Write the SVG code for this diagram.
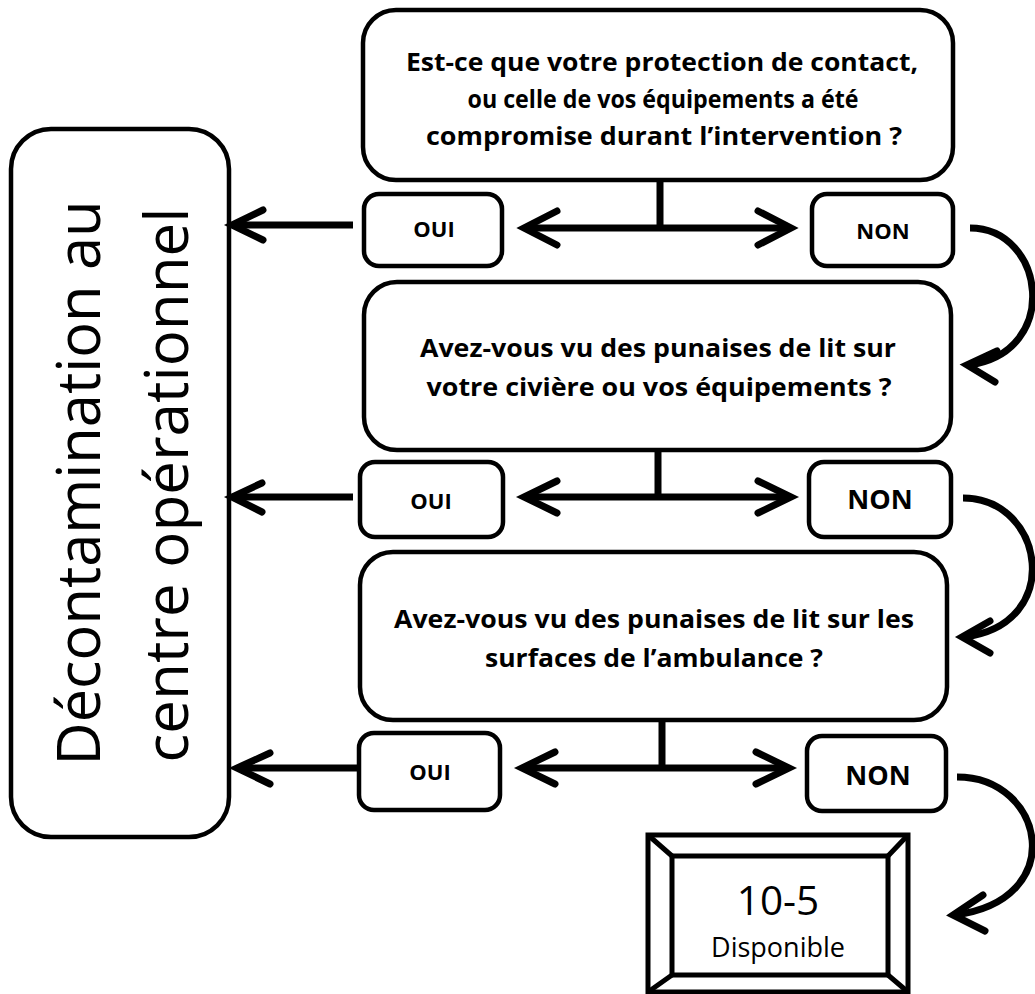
<svg xmlns="http://www.w3.org/2000/svg" width="1035" height="994" viewBox="0 0 1035 994">
<style>
  .box { fill: #ffffff; stroke: #000000; stroke-width: 4.5; }
  .frame { fill: none; stroke: #000000; stroke-width: 5; }
  .q { font-family: "Open Sans", "Noto Sans", sans-serif; font-weight: bold; font-size: 25px; fill: #000; text-anchor: middle; }
  .ans { font-family: "Open Sans", "Noto Sans", sans-serif; font-weight: bold; font-size: 22px; fill: #000; text-anchor: middle; }
  .ansL { font-family: "Open Sans", "Noto Sans", sans-serif; font-weight: bold; font-size: 27px; fill: #000; text-anchor: middle; }
  .big { font-family: "Open Sans", "Noto Sans", sans-serif; font-size: 61px; fill: #000; text-anchor: middle; }
  .reg { font-family: "Open Sans", "Noto Sans", sans-serif; fill: #000; text-anchor: middle; }
  .line { fill: none; stroke: #000; stroke-width: 7; stroke-linecap: butt; }
  .head { fill: none; stroke: #000; stroke-width: 7; stroke-linecap: round; stroke-linejoin: miter; stroke-miterlimit: 10; }
</style>

<g id="decontamination">
  <rect class="box" x="11" y="129" width="218" height="708" rx="40" ry="40"/>
  <text class="big" transform="translate(100,483) rotate(-90)" textLength="565" lengthAdjust="spacingAndGlyphs">Décontamination au</text>
  <text class="big" transform="translate(188,485) rotate(-90)" textLength="555" lengthAdjust="spacingAndGlyphs">centre opérationnel</text>
</g>

<g id="q1">
  <rect class="box" x="363" y="10" width="590" height="170" rx="33" ry="33"/>
  <text class="q" x="662" y="71" textLength="512" lengthAdjust="spacingAndGlyphs">Est-ce que votre protection de contact,</text>
  <text class="q" x="663" y="108" textLength="391" lengthAdjust="spacingAndGlyphs">ou celle de vos équipements a été</text>
  <text class="q" x="664" y="145" textLength="476" lengthAdjust="spacingAndGlyphs">compromise durant l’intervention ?</text>
</g>

<g id="oui1">
  <rect class="box" x="364" y="194" width="138" height="72" rx="15" ry="15"/>
  <text class="ans" x="434" y="237">OUI</text>
</g>
<g id="non1">
  <rect class="box" x="812" y="194" width="141" height="72" rx="15" ry="15"/>
  <text class="ans" x="883" y="239">NON</text>
</g>

<g id="q2">
  <rect class="box" x="364" y="282" width="587" height="168" rx="33" ry="33"/>
  <text class="q" x="658" y="357" textLength="476" lengthAdjust="spacingAndGlyphs">Avez-vous vu des punaises de lit sur</text>
  <text class="q" x="659" y="396" textLength="465" lengthAdjust="spacingAndGlyphs">votre civière ou vos équipements ?</text>
</g>

<g id="oui2">
  <rect class="box" x="360" y="462" width="143" height="75" rx="15" ry="15"/>
  <text class="ans" x="431" y="509">OUI</text>
</g>
<g id="non2">
  <rect class="box" x="809" y="462" width="142" height="75" rx="15" ry="15"/>
  <text class="ansL" x="880" y="509">NON</text>
</g>

<g id="q3">
  <rect class="box" x="360" y="552" width="587" height="168" rx="33" ry="33"/>
  <text class="q" x="654" y="628" textLength="520" lengthAdjust="spacingAndGlyphs">Avez-vous vu des punaises de lit sur les</text>
  <text class="q" x="654" y="667" textLength="338" lengthAdjust="spacingAndGlyphs">surfaces de l’ambulance ?</text>
</g>

<g id="oui3">
  <rect class="box" x="359" y="733" width="141" height="77" rx="15" ry="15"/>
  <text class="ans" x="430" y="780">OUI</text>
</g>
<g id="non3">
  <rect class="box" x="807" y="736" width="139" height="75" rx="15" ry="15"/>
  <text class="ansL" x="878" y="785">NON</text>
</g>

<g id="disponible">
  <rect x="648" y="835" width="260" height="157" fill="#fff" stroke="none"/>
  <rect class="frame" x="648" y="835" width="260" height="157"/>
  <rect class="frame" x="672" y="856" width="216" height="119"/>
  <path class="frame" d="M648 835 L672 856 M908 835 L888 856 M648 992 L672 975 M908 992 L888 975"/>
  <text class="reg" x="778" y="915" font-size="40.5">10-5</text>
  <text class="reg" x="778" y="957" font-size="27">Disponible</text>
</g>

<g id="connectors">
  <!-- row 1 -->
  <line class="line" x1="660" y1="180" x2="660" y2="228"/>
  <line class="line" x1="526" y1="228" x2="789" y2="228"/>
  <polyline class="head" points="557,211 524,228 557,245"/>
  <polyline class="head" points="758,211 791,228 758,245"/>
  <line class="line" x1="353" y1="225" x2="234" y2="225"/>
  <polyline class="head" points="263,210 232,225 263,240"/>
  <path class="line" d="M970 228 C1045 228 1062 352 969 365"/>
  <polyline class="head" points="997,351 967,365 995,382"/>

  <!-- row 2 -->
  <line class="line" x1="658" y1="450" x2="658" y2="497"/>
  <line class="line" x1="526" y1="497" x2="789" y2="497"/>
  <polyline class="head" points="557,481 524,497 557,513"/>
  <polyline class="head" points="758,481 791,497 758,513"/>
  <line class="line" x1="353" y1="497" x2="234" y2="497"/>
  <polyline class="head" points="262,483 232,497 262,512"/>
  <path class="line" d="M963 498 C1045 498 1065 625 964 637"/>
  <polyline class="head" points="990,621 962,637 990,653"/>

  <!-- row 3 -->
  <line class="line" x1="662" y1="720" x2="662" y2="768"/>
  <line class="line" x1="524" y1="768" x2="787" y2="768"/>
  <polyline class="head" points="555,752 522,768 555,784"/>
  <polyline class="head" points="756,752 789,768 756,784"/>
  <line class="line" x1="360" y1="768" x2="239" y2="768"/>
  <polyline class="head" points="270,753 237,768 270,784"/>
  <path class="line" d="M957 777 C1045 777 1070 900 955 915"/>
  <polyline class="head" points="983,895 953,915 985,931"/>
</g>
</svg>
